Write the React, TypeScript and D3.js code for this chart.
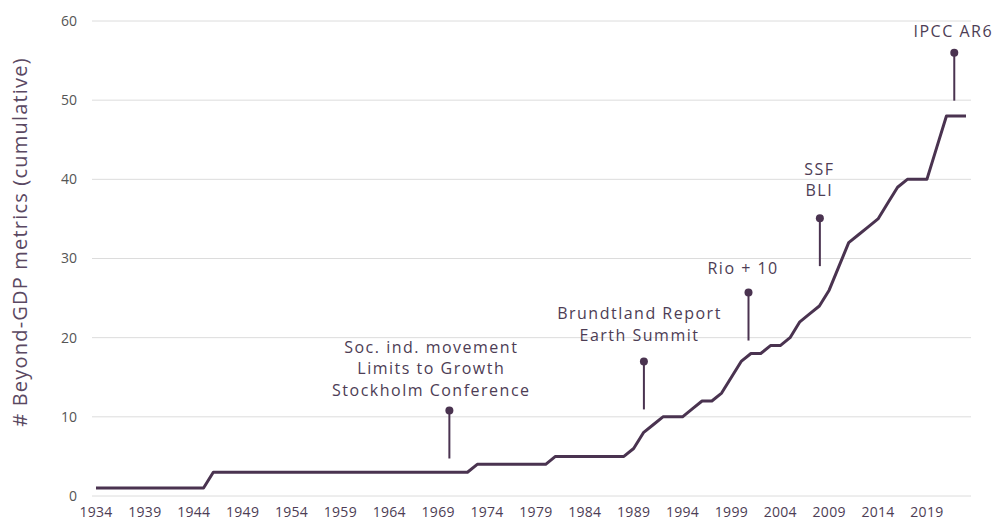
import * as d3 from "d3";
import { useEffect, useRef } from "react";

const years = d3.range(1934, 2024);
const counts = [
  1, 1, 1, 1, 1, 1, 1, 1, 1, 1, 1, 1, // 1934-1945
  3, 3, 3, 3, 3, 3, 3, 3, 3, 3, 3, 3, 3, 3, 3, 3, 3, 3, 3, 3, 3, 3, 3, 3, 3, 3, 3, // 1946-1972
  4, 4, 4, 4, 4, 4, 4, 4, // 1973-1980
  5, 5, 5, 5, 5, 5, 5, 5, // 1981-1988
  6, 8, 9, 10, 10, 10, 11, 12, 12, 13, 15, 17, // 1989-2000
  18, 18, 19, 19, 20, 22, 23, 24, 26, 29, 32, 33, 34, 35, 37, 39, 40, 40, 40, 44, 48, 48, 48, // 2001-2023
];

const xTicks = [1934, 1939, 1944, 1949, 1954, 1959, 1964, 1969, 1974, 1979, 1984, 1989, 1994, 1999, 2004, 2009, 2014, 2019];
const yTicks = [0, 10, 20, 30, 40, 50, 60];

const noteYears = [1970.15, 1990.05, 2000.75, 2008.05, 2021.8];
const noteValues = [10.8, 17, 25.7, 35.1, 56];
const noteLabelYears = [1968.3, 1989.6, 2000.2, 2008.0, 2021.7];
const noteLabelValues = [13.4, 20.3, 28.8, 38.6, 58.7];
const noteLabels = [
  ["Soc. ind. movement", "Limits to Growth", "Stockholm Conference"],
  ["Brundtland Report", "Earth Summit"],
  ["Rio + 10"],
  ["SSF", "BLI"],
  ["IPCC AR6"],
];

const purple = "#4a3350";
const textColor = "#4d3d55";
const font = "'Open Sans', sans-serif";

export default function App() {
  const ref = useRef<SVGSVGElement>(null);

  const width = 995;
  const height = 522;

  useEffect(() => {
    const svg = d3.select(ref.current);
    svg.selectAll("*").remove();

    const x = d3.scaleLinear().domain([1934, 2023]).range([96, 966]);
    const y = d3.scaleLinear().domain([0, 60]).range([496, 21]);

    // grid
    svg.append("g")
      .selectAll("line")
      .data(yTicks)
      .join("line")
      .attr("x1", 92)
      .attr("x2", 971)
      .attr("y1", d => y(d))
      .attr("y2", d => y(d))
      .attr("stroke", "#dcdcdc")
      .attr("stroke-width", 1);

    // y tick labels
    svg.append("g")
      .attr("font-family", font)
      .attr("font-size", 14)
      .attr("fill", "#555")
      .selectAll("text")
      .data(yTicks)
      .join("text")
      .attr("x", 77)
      .attr("y", d => y(d))
      .attr("dy", "0.35em")
      .attr("text-anchor", "end")
      .text(d => d);

    // x tick labels
    svg.append("g")
      .attr("font-family", font)
      .attr("font-size", 14)
      .attr("letter-spacing", 0.3)
      .attr("fill", textColor)
      .selectAll("text")
      .data(xTicks)
      .join("text")
      .attr("x", d => x(d))
      .attr("y", 517)
      .attr("text-anchor", "middle")
      .text(d => d);

    // y title
    svg.append("text")
      .attr("transform", `translate(27,242) rotate(-90)`)
      .attr("text-anchor", "middle")
      .attr("font-family", font)
      .attr("font-size", 20)
      .attr("letter-spacing", 1.2)
      .attr("fill", "#5a4862")
      .text("# Beyond-GDP metrics (cumulative)");

    // line
    const line = d3.line<number>()
      .x((d, i) => x(years[i]))
      .y(d => y(d));

    svg.append("path")
      .datum(counts)
      .attr("fill", "none")
      .attr("stroke", purple)
      .attr("stroke-width", 3)
      .attr("stroke-linejoin", "round")
      .attr("d", line);

    // annotations
    const notes = noteYears.map((yr, i) => ({
      yr, v: noteValues[i], ly: noteLabelYears[i], lv: noteLabelValues[i], lines: noteLabels[i],
    }));

    const g = svg.append("g").selectAll("g").data(notes).join("g");

    g.append("line")
      .attr("x1", d => x(d.yr))
      .attr("x2", d => x(d.yr))
      .attr("y1", d => y(d.v))
      .attr("y2", d => y(d.v) + 48)
      .attr("stroke", purple)
      .attr("stroke-width", 2);

    g.append("circle")
      .attr("cx", d => x(d.yr))
      .attr("cy", d => y(d.v))
      .attr("r", 4)
      .attr("fill", purple);

    g.append("text")
      .attr("font-family", font)
      .attr("font-size", 16)
      .attr("letter-spacing", 1.5)
      .attr("fill", textColor)
      .attr("text-anchor", "middle")
      .selectAll("tspan")
      .data(d => d.lines.map((t, j) => ({ t, j, n: d.lines.length, d })))
      .join("tspan")
      .attr("x", e => x(e.d.ly))
      .attr("y", e => y(e.d.lv) - (e.n - 1 - e.j) * 21.5)
      .attr("dy", "0.35em")
      .text(e => e.t);
  }, []);

  return (
    <div style={{ position: "absolute", left: 0, top: 0, background: "white" }}>
      <svg ref={ref} width={width} height={height} style={{ display: "block" }} />
    </div>
  );
}
